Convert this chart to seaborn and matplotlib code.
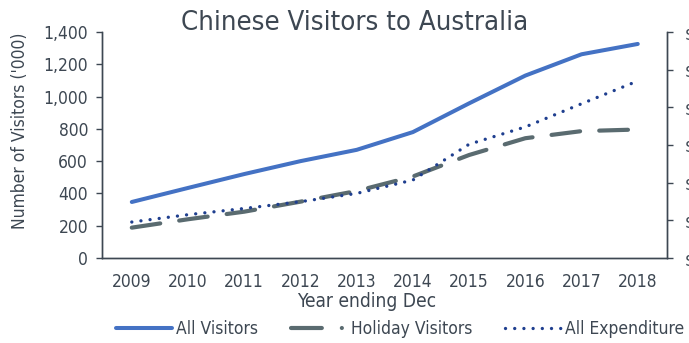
import matplotlib
matplotlib.use("Agg")
import matplotlib.pyplot as plt
import seaborn as sns
import pandas as pd
from matplotlib.ticker import FuncFormatter, FixedLocator
from matplotlib.lines import Line2D
from matplotlib import font_manager as fm

years = [2009, 2010, 2011, 2012, 2013, 2014, 2015, 2016, 2017, 2018]
all_visitors = [347, 434, 520, 600, 670, 780, 958, 1130, 1262, 1326]
holiday_visitors = [188, 240, 287, 349, 415, 505, 638, 742, 786, 796]
# expenditure ($bn) on the secondary axis
all_expenditure = [1.91, 2.30, 2.63, 2.99, 3.43, 4.14, 6.04, 6.96, 8.19, 9.40]
right_ticks = [0, 2, 4, 6, 8, 10, 12]
right_labels = ["$0bn", "$2bn", "$4bn", "$6bn", "$8bn", "$10bn", "$12bn"]

df = pd.DataFrame({"Year": years, "All Visitors": all_visitors,
                   "Holiday Visitors": holiday_visitors,
                   "All Expenditure": all_expenditure})

sns.set_style("white")
plt.rcParams["font.family"] = ["DejaVu Sans"]
# use the condensed cut if it is installed (closer to the narrow reference face)
path = fm.findfont(fm.FontProperties(family="DejaVu Sans", stretch="condensed"))
if "Condensed" in path:
    plt.rcParams["font.stretch"] = "condensed"
    k = 1.0
else:
    k = 0.9

txt = "#3D4752"
c_all = "#4472C4"
c_hol = "#5A6B70"
c_exp = "#1F3F8F"

S = 12.5 * k
fig = plt.figure(figsize=(6.89, 3.43), dpi=100)
ax = fig.add_axes([102 / 689, 85 / 343, 565 / 689, 226 / 343])
ax2 = ax.twinx()

sns.lineplot(data=df, x="Year", y="All Visitors", ax=ax, color=c_all, lw=2.9,
             solid_capstyle="round")
sns.lineplot(data=df, x="Year", y="Holiday Visitors", ax=ax, color=c_hol, lw=3.0,
             linestyle=(0, (6.9, 4.6)), dash_capstyle="round")
sns.lineplot(data=df, x="Year", y="All Expenditure", ax=ax2, color=c_exp, lw=2.4,
             linestyle=(0, (0.01, 2.75)), dash_capstyle="round")

ax.set_xlim(2008.47, 2018.52)
ax.set_ylim(0, 1400)
ax2.set_ylim(0, 12)
ax.set_xticks(years)
ax.set_xticklabels([str(y) for y in years])
ax.yaxis.set_major_locator(FixedLocator(range(0, 1401, 200)))
ax.yaxis.set_major_formatter(FuncFormatter(lambda v, p: f"{int(v):,}"))
ax2.set_yticks(right_ticks)
ax2.set_yticklabels(right_labels)

for a in (ax, ax2):
    for s in a.spines.values():
        s.set_color(txt)
        s.set_linewidth(1.0)
    a.spines["top"].set_visible(False)
    a.tick_params(colors=txt, labelsize=S, labelcolor=txt)
ax.tick_params(axis="y", length=4, width=1, direction="out", pad=6)
ax.tick_params(axis="x", length=0, pad=11)
ax2.tick_params(axis="y", length=4, width=1, direction="out", pad=8.6)

ax.set_xlabel("Year ending Dec", fontsize=13.8 * k, color=txt, va="top")
ax.xaxis.set_label_coords((367 - 102) / 565, -0.150)
ax.set_ylabel("Number of Visitors ('000)", fontsize=S, color=txt)
ax.yaxis.set_label_coords(-0.130, 0.562)
ax2.set_ylabel("")
fig.text(355 / 689, 1 - 30 / 343, "Chinese Visitors to Australia", fontsize=19.7 * k,
         color=txt, ha="center", va="baseline")

handles = [
    Line2D([], [], color=c_all, lw=2.9, solid_capstyle="round"),
    Line2D([], [], color=c_hol, lw=3.0, linestyle=(0, (7.4, 4.8, 0.01, 10)), dash_capstyle="round"),
    Line2D([], [], color=c_exp, lw=2.4, linestyle=(0, (0.01, 2.75)), dash_capstyle="round"),
]
fs_px = S * 100 / 72
fig.legend(handles, ["All Visitors", "Holiday Visitors", "All Expenditure"],
           loc="center left", bbox_to_anchor=(116 / 689, 1 - 329 / 343), ncol=3, frameon=False,
           fontsize=S, labelcolor=txt, handlelength=56 / fs_px, handletextpad=4 / fs_px,
           columnspacing=33 / fs_px, borderaxespad=0, borderpad=0)

fig.savefig("out.png", dpi=100)
